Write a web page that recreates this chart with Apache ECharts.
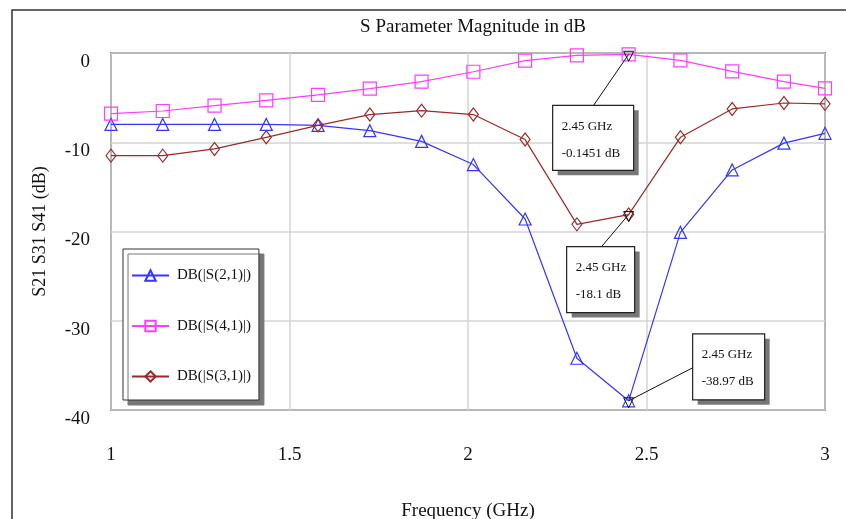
<!DOCTYPE html>
<html>
<head>
<meta charset="utf-8">
<title>S Parameter Magnitude in dB</title>
<script src="https://cdn.jsdelivr.net/npm/echarts@6/dist/echarts.min.js"></script>
<style>
html,body{margin:0;padding:0;background:#fff;overflow:hidden;}
#main{width:846px;height:519px;}
</style>
</head>
<body>
<div id="main"></div>
<script>
// 频率点 (GHz)
var freqs = [1, 1.145, 1.29, 1.435, 1.58, 1.725, 1.87, 2.015, 2.16, 2.305, 2.45, 2.595, 2.74, 2.885, 3.0];
// 各曲线 dB 值
var s21 = [-8.0, -8.0, -8.0, -8.0, -8.1, -8.7, -9.9, -12.5, -18.6, -34.2, -38.97, -20.1, -13.1, -10.1, -9.0];
var s41 = [-6.8, -6.5, -5.9, -5.3, -4.7, -4.0, -3.2, -2.1, -0.86, -0.27, -0.1451, -0.83, -2.06, -3.2, -3.96];
var s31 = [-11.5, -11.5, -10.75, -9.45, -8.1, -6.9, -6.46, -6.9, -9.7, -19.2, -18.1, -9.45, -6.27, -5.6, -5.7];
var seriesNames = ['DB(|S(2,1)|)', 'DB(|S(4,1)|)', 'DB(|S(3,1)|)'];
var xTicks = [1, 1.5, 2, 2.5, 3];
var yTicks = [0, -10, -20, -30, -40];

// 标记点
var markerFreq = [2.45, 2.45, 2.45];
var markerVals = [-0.1451, -18.1, -38.97];
// 标注框相对标记点的位置 [dx, dy, w, h, 引线x, 引线y]
var boxLayout = [
	[-76, 51, 81, 65, 41, 0],
	[-62, 32, 68, 66, 35, 0],
	[64, -67, 72, 66, 0, 34]
];

var FONT = 'Liberation Serif';
var colors = ['#3535ff', '#ff3cff', '#9a2a2a'];
var symbols = ['triangle', 'rect', 'diamond'];
var symbolSizes = [[12, 12], [13, 13], [10, 13]];

function pairs(xs, ys){
	var arr = [];
	for(var i=0;i<xs.length;i++){
		arr.push([xs[i], ys[i]]);
	}
	return arr;
}

var chart = echarts.init(document.getElementById('main'));
var allData = [s21, s41, s31];
var series = [];
for(var k=0;k<3;k++){
	series.push({
		name: seriesNames[k],
		type: 'line',
		data: pairs(freqs, allData[k]),
		symbol: symbols[k],
		symbolSize: symbolSizes[k],
		showAllSymbol: true,
		clip: true,
		animation: false,
		lineStyle: {color: colors[k], width: 1.2},
		itemStyle: {color: 'rgba(255,255,255,0)', borderColor: colors[k], borderWidth: 1.2}
	});
}

var option = {
	animation: false,
	backgroundColor: '#fff',
	title: {
		text: 'S Parameter Magnitude in dB',
		left: 468,
		top: 13,
		textAlign: 'center',
		textStyle: {fontFamily: FONT, fontSize: 19, fontWeight: 'normal', color: '#111'}
	},
	grid: {
		left: 111, width: 714, top: 53, height: 357,
		outerBoundsMode: 'none',
		containLabel: false,
		show: true, borderColor: '#333', borderWidth: 1.5
	},
	legend: {
		orient: 'vertical',
		left: 123,
		top: 249,
		data: seriesNames,
		selectedMode: false,
		itemWidth: 37,
		itemHeight: 13,
		itemGap: 35.5,
		padding: [19, 8, 16, 8],
		backgroundColor: '#fff',
		borderColor: '#333',
		borderWidth: 1,
		shadowColor: '#777',
		shadowBlur: 0,
		shadowOffsetX: 5,
		shadowOffsetY: 5,
		textStyle: {fontFamily: FONT, fontSize: 15, color: '#111', padding: [0, 0, 0, 3]}
	},
	xAxis: {
		type: 'value',
		min: xTicks[0],
		max: xTicks[xTicks.length-1],
		interval: 0.5,
		name: 'Frequency (GHz)',
		nameLocation: 'middle',
		nameGap: 92,
		nameTextStyle: {fontFamily: FONT, fontSize: 19, color: '#111'},
		axisLine: {show: false},
		axisTick: {show: false},
		axisLabel: {fontFamily: FONT, fontSize: 19, color: '#111', margin: 36},
		splitLine: {show: true, lineStyle: {color: '#d4d4d4', width: 1.5}}
	},
	yAxis: {
		type: 'value',
		min: yTicks[yTicks.length-1],
		max: yTicks[0],
		interval: 10,
		name: 'S21 S31 S41 (dB)',
		nameLocation: 'middle',
		nameGap: 62,
		nameTextStyle: {fontFamily: FONT, fontSize: 18, color: '#111'},
		axisLine: {show: false},
		axisTick: {show: false},
		axisLabel: {fontFamily: FONT, fontSize: 19, color: '#111', margin: 21, verticalAlign: 'top', lineHeight: 18},
		splitLine: {show: true, lineStyle: {color: '#d4d4d4', width: 1.5}}
	},
	series: series
};
chart.setOption(option);

// 外框 + 标记标注
function drawCallouts(){
	var g = [];
	g.push({
		type: 'rect',
		shape: {x: 12, y: 10, width: 900, height: 600},
		style: {fill: 'none', stroke: '#333', lineWidth: 1.5},
		silent: true, z: -1
	});
	for(var i=0;i<markerVals.length;i++){
		var p = chart.convertToPixel({gridIndex: 0}, [markerFreq[i], markerVals[i]]);
		var b = boxLayout[i];
		var bx = p[0] + b[0], by = p[1] + b[1];
		// 引线
		g.push({
			type: 'line',
			shape: {x1: p[0], y1: p[1], x2: bx + b[4], y2: by + b[5]},
			style: {stroke: '#111', lineWidth: 1},
			z: 10
		});
		// 倒三角标记
		g.push({
			type: 'polygon',
			shape: {points: [[p[0]-5, p[1]-3], [p[0]+5, p[1]-3], [p[0], p[1]+7]]},
			style: {fill: 'none', stroke: '#111', lineWidth: 1},
			z: 11
		});
		// 阴影
		g.push({
			type: 'rect',
			shape: {x: bx + 5, y: by + 5, width: b[2], height: b[3]},
			style: {fill: '#777'},
			z: 12
		});
		g.push({
			type: 'rect',
			shape: {x: bx, y: by, width: b[2], height: b[3]},
			style: {fill: '#fff', stroke: '#222', lineWidth: 1.2},
			z: 13
		});
		g.push({
			type: 'text',
			x: bx + 9, y: by + 21,
			style: {text: markerFreq[i] + ' GHz', font: '13px "' + FONT + '"', fill: '#111', verticalAlign: 'middle'},
			z: 14
		});
		g.push({
			type: 'text',
			x: bx + 9, y: by + 48,
			style: {text: markerVals[i] + ' dB', font: '13px "' + FONT + '"', fill: '#111', verticalAlign: 'middle'},
			z: 14
		});
	}
	chart.setOption({graphic: g});
}
drawCallouts();
</script>
</body>
</html>
